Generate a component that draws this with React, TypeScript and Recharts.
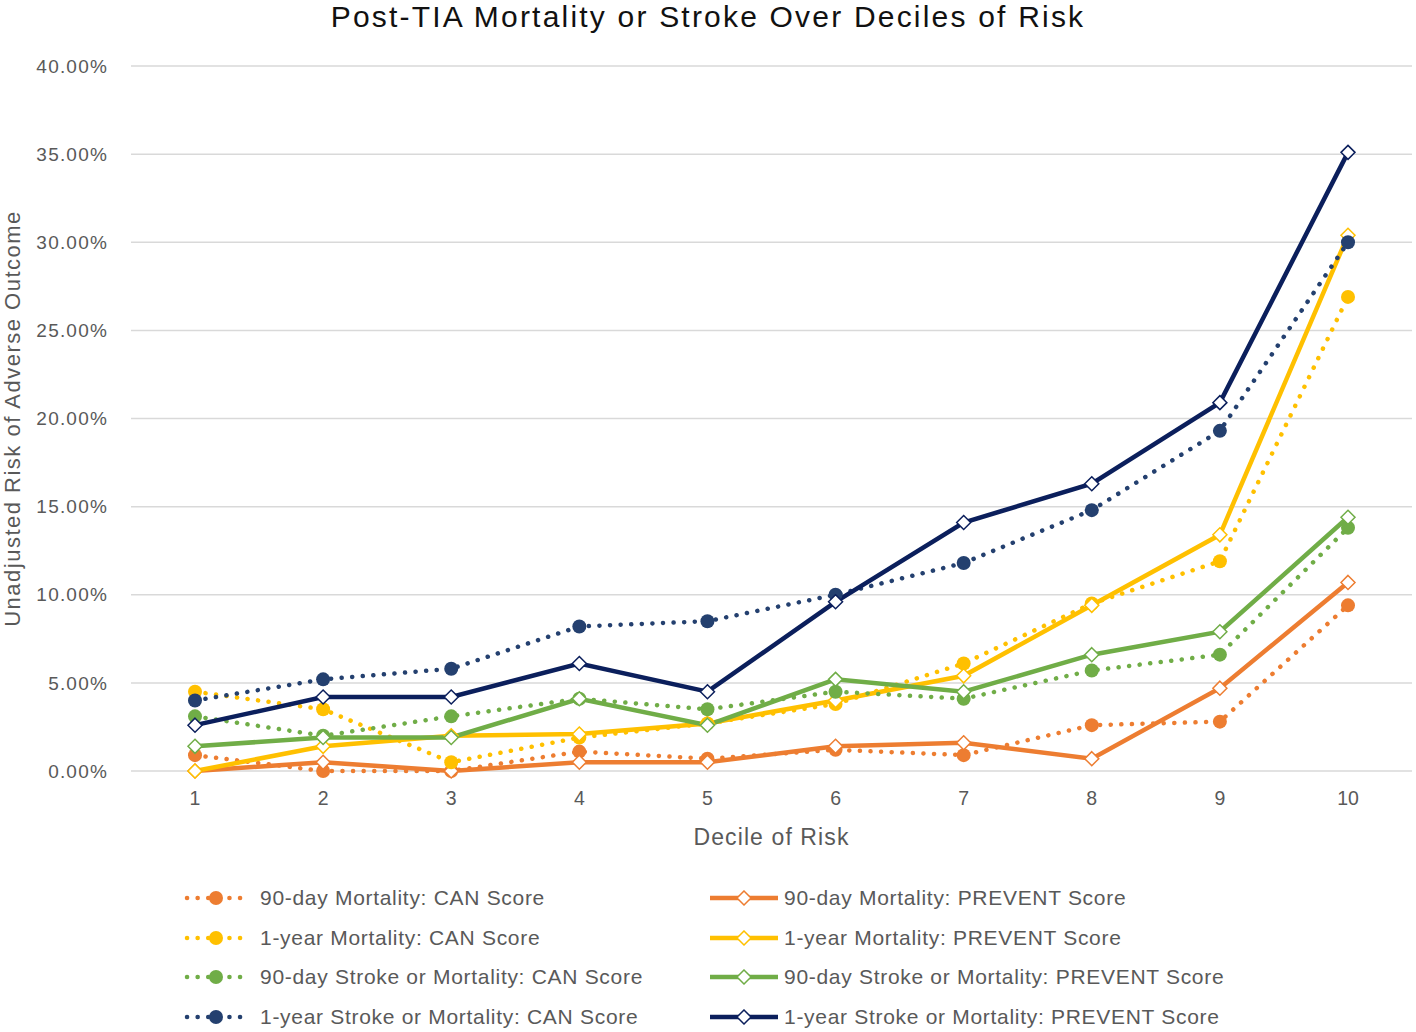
import React from 'react';
import { LineChart, Line, XAxis, YAxis, CartesianGrid } from 'recharts';

const DECILES = ['1', '2', '3', '4', '5', '6', '7', '8', '9', '10'];
const Y_TICKS = [0, 5, 10, 15, 20, 25, 30, 35, 40];

// values in percent
const mort90Can = [0.9, 0, 0, 1.1, 0.7, 1.2, 0.9, 2.6, 2.8, 9.4];
const mort90Prevent = [0, 0.5, 0, 0.5, 0.5, 1.4, 1.6, 0.7, 4.7, 10.7];
const mort1yCan = [4.5, 3.5, 0.5, 1.9, 2.7, 3.8, 6.1, 9.5, 11.9, 26.9];
const mort1yPrevent = [0, 1.4, 2.0, 2.1, 2.7, 4.0, 5.4, 9.4, 13.4, 30.4];
const stroke90Can = [3.1, 2.0, 3.1, 4.1, 3.5, 4.5, 4.1, 5.7, 6.6, 13.8];
const stroke90Prevent = [1.4, 1.9, 1.9, 4.1, 2.6, 5.2, 4.5, 6.6, 7.9, 14.4];
const stroke1yCan = [4.0, 5.2, 5.8, 8.2, 8.5, 10.0, 11.8, 14.8, 19.3, 30.0];
const stroke1yPrevent = [2.6, 4.2, 4.2, 6.1, 4.5, 9.6, 14.1, 16.3, 20.9, 35.1];

const SERIES = [
  { key: 'm90c', name: '90-day Mortality: CAN Score', values: mort90Can, color: '#ED7D31', dotted: true },
  { key: 'm90p', name: '90-day Mortality: PREVENT Score', values: mort90Prevent, color: '#ED7D31', dotted: false },
  { key: 'm1c', name: '1-year Mortality: CAN Score', values: mort1yCan, color: '#FFC000', dotted: true },
  { key: 'm1p', name: '1-year Mortality: PREVENT Score', values: mort1yPrevent, color: '#FFC000', dotted: false },
  { key: 's90c', name: '90-day Stroke or Mortality: CAN Score', values: stroke90Can, color: '#70AD47', dotted: true },
  { key: 's90p', name: '90-day Stroke or Mortality: PREVENT Score', values: stroke90Prevent, color: '#70AD47', dotted: false },
  { key: 's1c', name: '1-year Stroke or Mortality: CAN Score', values: stroke1yCan, color: '#24406F', dotted: true },
  { key: 's1p', name: '1-year Stroke or Mortality: PREVENT Score', values: stroke1yPrevent, color: '#0B1F5C', dotted: false },
];

const data = DECILES.map((d, i) => {
  const row: Record<string, string | number> = { decile: d };
  SERIES.forEach((s) => { row[s.key] = s.values[i]; });
  return row;
});

const FONT = '"Liberation Sans", Arial, sans-serif';
const GREY = '#595959';

function Diamond({ cx, cy, color }: { cx: number; cy: number; color: string }) {
  const r = 7;
  return (
    <polygon
      points={`${cx},${cy - r} ${cx + r},${cy} ${cx},${cy + r} ${cx - r},${cy}`}
      fill="#fff"
      stroke={color}
      strokeWidth={1.5}
    />
  );
}

function LegendIcon({ color, dotted }: { color: string; dotted: boolean }) {
  return (
    <svg width={68} height={16} style={{ display: 'block' }}>
      {dotted ? (
        <line x1={3} y1={8} x2={66} y2={8} stroke={color} strokeWidth={4.5}
          strokeLinecap="round" strokeDasharray="0.1 10.5" />
      ) : (
        <line x1={0} y1={8} x2={68} y2={8} stroke={color} strokeWidth={4.5} />
      )}
      {dotted ? <circle cx={32} cy={8} r={7} fill={color} /> : <Diamond cx={34} cy={8} color={color} />}
    </svg>
  );
}

export default function App() {
  return (
    <div style={{ position: 'absolute', left: 0, top: 0, width: 1416, height: 1032, background: '#fff', fontFamily: FONT }}>
      <div style={{ position: 'absolute', top: 0, left: 0, width: 1416, textAlign: 'center', fontSize: 30, letterSpacing: 2.2, color: '#111', lineHeight: '34px' }}>
        Post-TIA Mortality or Stroke Over Deciles of Risk
      </div>
      <div style={{ position: 'absolute', top: 0, left: 0 }}>
        <LineChart width={1416} height={860} data={data} margin={{ top: 66, right: 4, left: 10, bottom: 9 }}>
          <CartesianGrid vertical={false} stroke="#d9d9d9" strokeWidth={1.5} />
          <XAxis
            dataKey="decile"
            axisLine={false}
            tickLine={false}
            tickSize={0}
            tickMargin={20}
            height={80}
            padding={{ left: 64, right: 64 }}
            tick={{ fill: GREY, fontSize: 19.5, fontFamily: FONT }}
            label={{ value: 'Decile of Risk', position: 'insideBottom', offset: 6, fill: GREY, fontSize: 23, fontFamily: FONT, letterSpacing: 1.1 }}
          />
          <YAxis
            domain={[0, 40]}
            ticks={Y_TICKS}
            interval={0}
            width={121}
            axisLine={false}
            tickLine={false}
            tickSize={0}
            tickMargin={23}
            tickFormatter={(v: number) => `${v.toFixed(2)}%`}
            tick={{ fill: GREY, fontSize: 19, fontFamily: FONT, letterSpacing: 1.2 }}
            label={{ value: 'Unadjusted Risk of Adverse Outcome', angle: -90, position: 'insideLeft', offset: 2, fill: GREY, fontSize: 22, fontFamily: FONT, letterSpacing: 1.5, style: { textAnchor: 'middle' } }}
          />
          {SERIES.map((s) => (
            <Line
              key={s.key}
              dataKey={s.key}
              name={s.name}
              type="linear"
              stroke={s.color}
              strokeWidth={4.5}
              strokeLinecap={s.dotted ? 'round' : 'butt'}
              strokeDasharray={s.dotted ? '0.1 10.5' : undefined}
              isAnimationActive={false}
              activeDot={false}
              dot={(p: any) =>
                s.dotted ? (
                  <circle key={`${s.key}-${p.index}`} cx={p.cx} cy={p.cy} r={7} fill={s.color} />
                ) : (
                  <Diamond key={`${s.key}-${p.index}`} cx={p.cx} cy={p.cy} color={s.color} />
                )
              }
            />
          ))}
        </LineChart>
      </div>
      {SERIES.map((s, i) => {
        const col = i % 2;
        const row = Math.floor(i / 2);
        const left = col === 0 ? 184 : 710;
        const top = 898 + row * 39.7 - 12;
        return (
          <div key={s.key} style={{ position: 'absolute', left, top, height: 24, display: 'flex', alignItems: 'center' }}>
            <LegendIcon color={s.color} dotted={s.dotted} />
            <span style={{ marginLeft: col === 0 ? 8 : 6, fontSize: 21, letterSpacing: 0.7, color: GREY, whiteSpace: 'nowrap' }}>{s.name}</span>
          </div>
        );
      })}
    </div>
  );
}
